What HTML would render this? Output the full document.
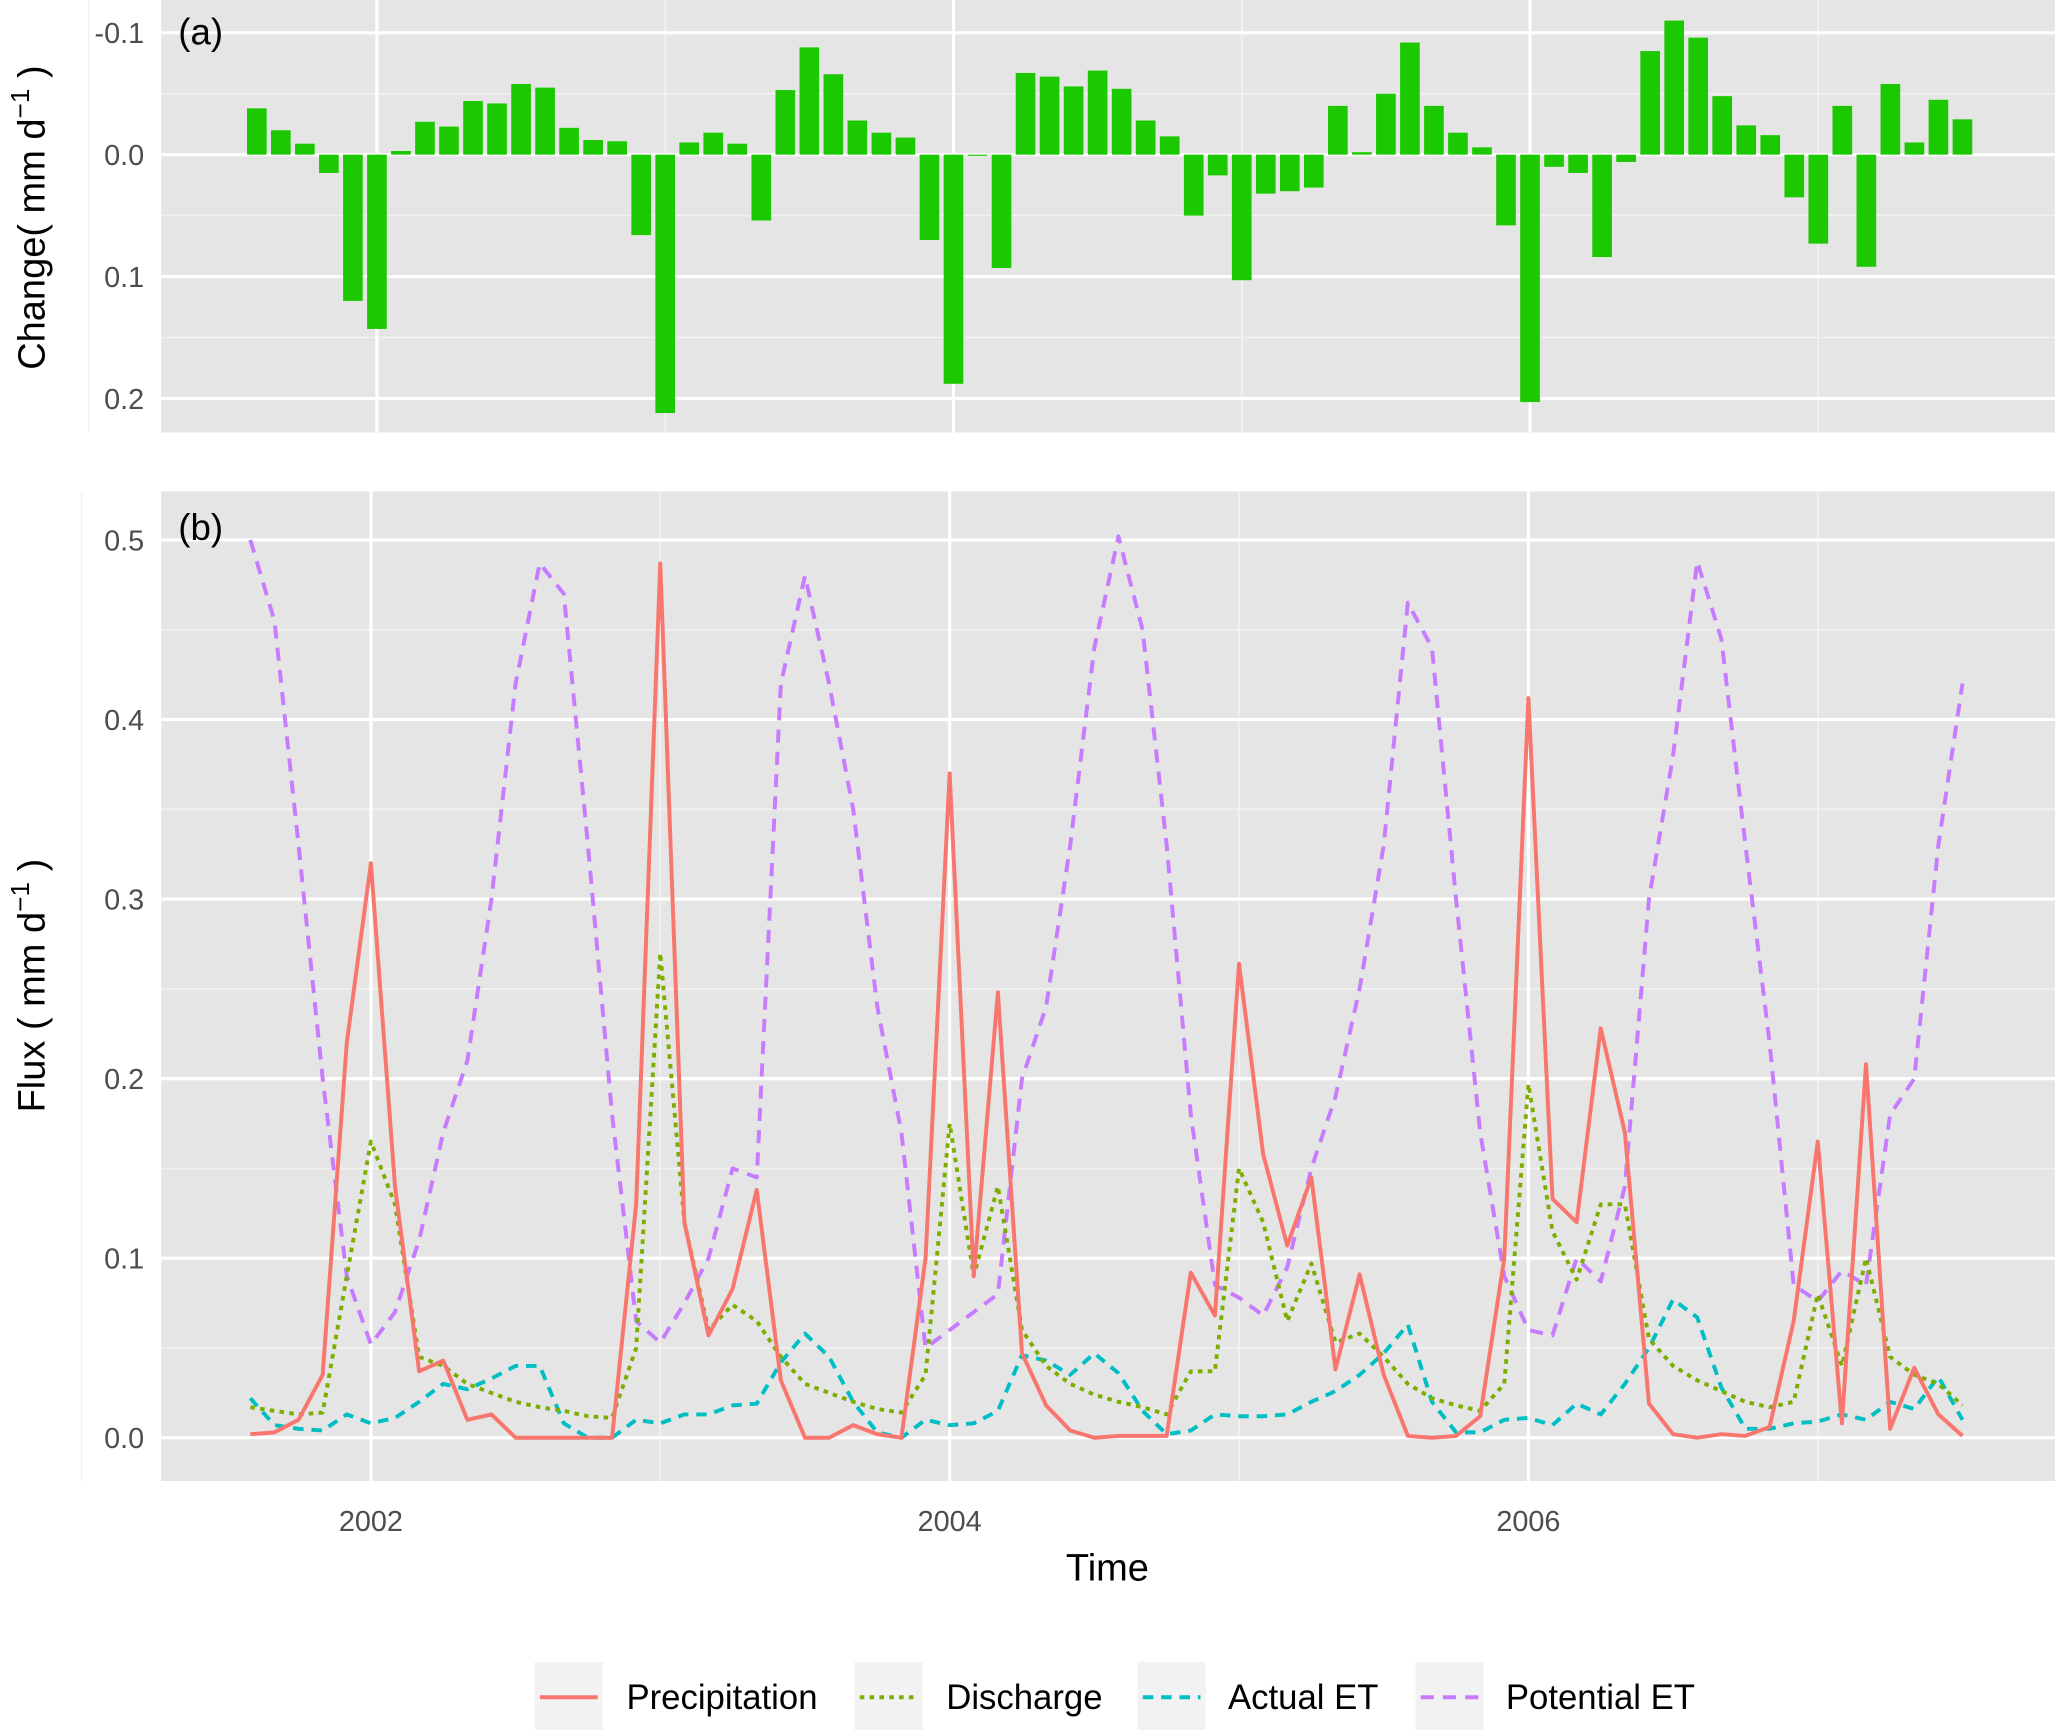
<!DOCTYPE html>
<html><head><meta charset="utf-8"><style>
html,body{margin:0;padding:0;background:#fff;}
svg{display:block;font-family:"Liberation Sans",sans-serif;}
</style></head><body>
<svg id="chart" width="2055" height="1730" viewBox="0 0 1568 1320" preserveAspectRatio="none" xmlns="http://www.w3.org/2000/svg">
<rect x="0" y="0" width="1568" height="1320" fill="#fff"/>
<rect x="123" y="0" width="1445" height="330" fill="#e5e5e5"/>
<rect x="123" y="375" width="1445" height="755" fill="#e5e5e5"/>
<g id="grid"></g>
<g id="bars"></g>
<g id="lines"></g>
<g id="axes"></g>
<text x="136" y="34" font-size="28">(a)</text>
<text x="136" y="412" font-size="28">(b)</text>
<text transform="translate(34,166) rotate(-90)" text-anchor="middle" font-size="29">Change( mm d<tspan dy="-12" font-size="20">−1</tspan><tspan dy="12"> )</tspan></text>
<text transform="translate(34,752) rotate(-90)" text-anchor="middle" font-size="29">Flux ( mm d<tspan dy="-12" font-size="20">−1</tspan><tspan dy="12"> )</tspan></text>
<text x="845" y="1206" text-anchor="middle" font-size="29">Time</text>
<g>
  <rect x="408" y="1268" width="52" height="54" fill="#f2f2f2"/>
  <line x1="412" y1="1295" x2="456" y2="1295" stroke="#F8766D" stroke-width="3"/>
  <text x="478" y="1304" font-size="26.5">Precipitation</text>
  <rect x="652" y="1268" width="52" height="54" fill="#f2f2f2"/>
  <line x1="656" y1="1295" x2="700" y2="1295" stroke="#7CAE00" stroke-width="3" stroke-dasharray="3.5,4"/>
  <text x="722" y="1304" font-size="26.5">Discharge</text>
  <rect x="868" y="1268" width="52" height="54" fill="#f2f2f2"/>
  <line x1="872" y1="1295" x2="916" y2="1295" stroke="#00BFC4" stroke-width="3" stroke-dasharray="8,6"/>
  <text x="937" y="1304" font-size="26.5">Actual ET</text>
  <rect x="1080" y="1268" width="52" height="54" fill="#f2f2f2"/>
  <line x1="1084" y1="1295" x2="1128" y2="1295" stroke="#C77CFF" stroke-width="3" stroke-dasharray="10,7"/>
  <text x="1149" y="1304" font-size="26.5">Potential ET</text>
</g>
</svg>
<script>
const change = [-0.038,-0.02,-0.009,0.015,0.12,0.143,-0.003,-0.027,-0.023,-0.044,-0.042,-0.058,-0.055,-0.022,-0.012,-0.011,0.066,0.212,-0.01,-0.018,-0.009,0.054,-0.053,-0.088,-0.066,-0.028,-0.018,-0.014,0.07,0.188,0.001,0.093,-0.067,-0.064,-0.056,-0.069,-0.054,-0.028,-0.015,0.05,0.017,0.103,0.032,0.03,0.027,-0.04,-0.002,-0.05,-0.092,-0.04,-0.018,-0.006,0.058,0.203,0.01,0.015,0.084,0.006,-0.085,-0.11,-0.096,-0.048,-0.024,-0.016,0.035,0.073,-0.04,0.092,-0.058,-0.01,-0.045,-0.029];
const precipitation = [0.002,0.003,0.01,0.035,0.22,0.32,0.14,0.037,0.043,0.01,0.013,0.0,0.0,0.0,0.0,0.0,0.13,0.487,0.12,0.057,0.083,0.138,0.032,0.0,0.0,0.007,0.002,0.0,0.1,0.37,0.09,0.248,0.047,0.018,0.004,0.0,0.001,0.001,0.001,0.092,0.068,0.264,0.158,0.107,0.145,0.038,0.091,0.035,0.001,0.0,0.001,0.012,0.1,0.412,0.133,0.12,0.228,0.17,0.019,0.002,0.0,0.002,0.001,0.006,0.065,0.165,0.008,0.208,0.005,0.039,0.013,0.001];
const discharge = [0.017,0.015,0.013,0.014,0.09,0.165,0.13,0.045,0.04,0.03,0.025,0.02,0.017,0.015,0.012,0.011,0.05,0.27,0.12,0.06,0.074,0.065,0.045,0.03,0.025,0.02,0.016,0.014,0.035,0.175,0.09,0.14,0.06,0.04,0.03,0.024,0.02,0.017,0.013,0.037,0.037,0.15,0.12,0.065,0.097,0.053,0.058,0.045,0.03,0.022,0.018,0.015,0.03,0.197,0.115,0.088,0.13,0.13,0.055,0.04,0.032,0.026,0.02,0.017,0.02,0.08,0.04,0.1,0.045,0.035,0.03,0.018];
const actualET = [0.022,0.007,0.005,0.004,0.013,0.008,0.011,0.02,0.03,0.027,0.033,0.04,0.04,0.008,0.0,0.0,0.01,0.008,0.013,0.013,0.018,0.019,0.042,0.058,0.045,0.02,0.003,0.0,0.01,0.007,0.008,0.015,0.046,0.043,0.035,0.047,0.036,0.015,0.002,0.004,0.013,0.012,0.012,0.013,0.02,0.026,0.035,0.047,0.063,0.02,0.003,0.003,0.01,0.011,0.007,0.019,0.013,0.03,0.05,0.077,0.067,0.028,0.005,0.005,0.008,0.009,0.013,0.01,0.02,0.016,0.034,0.01];
const potentialET = [0.5,0.455,0.33,0.2,0.09,0.052,0.07,0.11,0.17,0.21,0.3,0.42,0.487,0.47,0.33,0.18,0.065,0.053,0.075,0.1,0.15,0.145,0.42,0.48,0.42,0.35,0.24,0.17,0.05,0.06,0.07,0.08,0.2,0.24,0.33,0.44,0.502,0.45,0.33,0.18,0.085,0.078,0.068,0.095,0.15,0.19,0.25,0.33,0.465,0.44,0.3,0.17,0.09,0.06,0.057,0.1,0.087,0.14,0.3,0.38,0.488,0.445,0.33,0.22,0.085,0.076,0.093,0.085,0.18,0.2,0.33,0.42];
const changeTicks = [-0.1, 0.0, 0.1, 0.2];
const changeTickLabels = ["-0.1", "0.0", "0.1", "0.2"];
const fluxTicks = [0.0, 0.1, 0.2, 0.3, 0.4, 0.5];
const fluxTickLabels = ["0.0", "0.1", "0.2", "0.3", "0.4", "0.5"];
const yearTicks = [2002, 2004, 2006];
const minorYears = [2001, 2003, 2005, 2007];
const startYear = 2001 + 7/12; // Aug 2001

const NS = "http://www.w3.org/2000/svg";
function mk(tag, attrs, parent){ const e=document.createElementNS(NS,tag); for(const k in attrs) e.setAttribute(k,attrs[k]); parent.appendChild(e); return e; }
const xTop = t => 287.6 + (t - 2002) * 12 * 18.33;
const xBot = t => 283 + (t - 2002) * 12 * 18.4;
const yTop = v => 118 + v * 930;
const yBot = v => 1097 - v * 1370;
const tOf = i => startYear + i/12;

const grid = document.getElementById('grid');
const axes = document.getElementById('axes');
[-0.05,0.05,0.15].forEach(v=>{ const l=mk('line',{x1:123,x2:1568,y1:yTop(v),y2:yTop(v),stroke:'#f2f2f2','stroke-width':1.2},grid);
  });
minorYears.forEach(y=>{ const l=mk('line',{x1:xTop(y),x2:xTop(y),y1:0,y2:330,stroke:'#f2f2f2','stroke-width':1.2},grid);
  });
changeTicks.forEach((v,i)=>{ const l=mk('line',{x1:123,x2:1568,y1:yTop(v),y2:yTop(v),stroke:'#fff','stroke-width':2.4},grid);
 
const t=mk('text',{x:110,y:yTop(v)+8,'text-anchor':'end','font-size':22,fill:'#4d4d4d'},axes); t.textContent=changeTickLabels[i];
  });
yearTicks.forEach(y=>{ const l=mk('line',{x1:xTop(y),x2:xTop(y),y1:0,y2:330,stroke:'#fff','stroke-width':2.4},grid);
  });
[0.05,0.15,0.25,0.35,0.45].forEach(v=>{ const l=mk('line',{x1:123,x2:1568,y1:yBot(v),y2:yBot(v),stroke:'#f2f2f2','stroke-width':1.2},grid);
  });
minorYears.forEach(y=>{ const l=mk('line',{x1:xBot(y),x2:xBot(y),y1:375,y2:1130,stroke:'#f2f2f2','stroke-width':1.2},grid);
  });
fluxTicks.forEach((v,i)=>{ const l=mk('line',{x1:123,x2:1568,y1:yBot(v),y2:yBot(v),stroke:'#fff','stroke-width':2.4},grid);
 
const t=mk('text',{x:110,y:yBot(v)+8,'text-anchor':'end','font-size':22,fill:'#4d4d4d'},axes); t.textContent=fluxTickLabels[i];
  });
yearTicks.forEach(y=>{ const l=mk('line',{x1:xBot(y),x2:xBot(y),y1:375,y2:1130,stroke:'#fff','stroke-width':2.4},grid);
 
const t=mk('text',{x:xBot(y),y:1168,'text-anchor':'middle','font-size':22,fill:'#4d4d4d'},axes); t.textContent=String(y);
  });
const bars = document.getElementById('bars');
change.forEach((v,i)=>{ const x=xTop(tOf(i)); const y0=yTop(0), y1=yTop(v);
const r=mk('rect',{x:x-7.5,y:Math.min(y0,y1),width:15,height:Math.max(0.6,Math.abs(y1-y0)),fill:'#1CC900'},bars);
  });
const lines = document.getElementById('lines');
function series(arr,color,dash,name){ const pts=arr.map((v,i)=>xBot(tOf(i)).toFixed(1)+','+yBot(v).toFixed(1)).join(' ');
const p=mk('polyline',{points:pts,fill:'none',stroke:color,'stroke-width':3,'stroke-linejoin':'round','stroke-dasharray':dash},lines);
  }
series(potentialET,'#C77CFF','10,7','line-potential-et');
series(actualET,'#00BFC4','8,6','line-actual-et');
series(discharge,'#7CAE00','3.5,4','line-discharge');
series(precipitation,'#F8766D','none','line-precipitation');
</script>
</body></html>
